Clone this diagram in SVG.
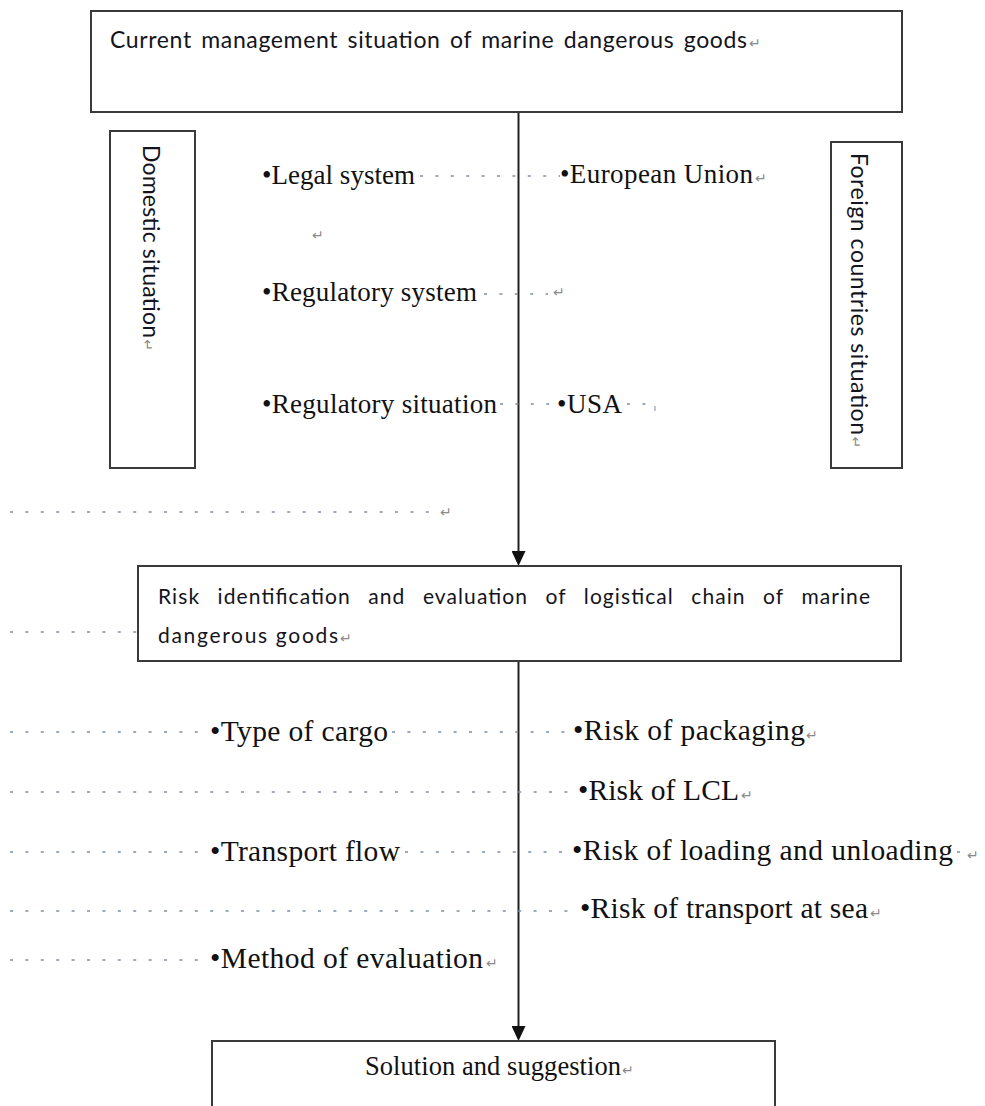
<svg xmlns="http://www.w3.org/2000/svg" width="985" height="1106" viewBox="0 0 985 1106">
<style>
.box{fill:#fff;stroke:#3a3a3a;stroke-width:2}
.sans{font-family:Lato,"Liberation Sans",Arial,sans-serif;fill:#141420}
.serif{font-family:"Liberation Serif","Times New Roman",serif;fill:#111}
.up{font-size:27px}
.low{font-size:29.5px}
.ret{font-family:"DejaVu Sans",sans-serif;font-size:14px;fill:#8a8a8a}
.dot{stroke:#7d8ea3;stroke-width:1.5;stroke-dasharray:3 12.4;fill:none}
.conn{stroke:#222;stroke-width:2;fill:none}
</style>
<defs>
<marker id="arr" viewBox="0 0 15 14" refX="7" refY="7" markerWidth="15" markerHeight="14" markerUnits="userSpaceOnUse" orient="auto">
<path d="M0,0 L15,7 L0,14 z" fill="#111"/>
</marker>
</defs>
<rect width="985" height="1106" fill="#fff"/>

<g id="connectors">
<line class="conn" x1="518.5" y1="112" x2="518.5" y2="558" marker-end="url(#arr)"/>
<line class="conn" x1="518.5" y1="661" x2="518.5" y2="1033" marker-end="url(#arr)"/>
</g>

<g id="leaders">
<line class="dot" x1="420" y1="176" x2="560" y2="176"/>
<line class="dot" x1="484" y1="294" x2="548" y2="294"/>
<line class="dot" x1="500" y1="404" x2="556" y2="404"/>
<line class="dot" x1="627" y1="404" x2="650" y2="404"/>
<line class="dot" x1="655" y1="406" x2="655" y2="411" style="stroke-dasharray:none;stroke-width:1"/>
<line class="dot" x1="10" y1="512" x2="434" y2="512"/>
<line class="dot" x1="10" y1="632" x2="137" y2="632"/>
<line class="dot" x1="10" y1="732" x2="206" y2="732"/>
<line class="dot" x1="392" y1="732" x2="572" y2="732"/>
<line class="dot" x1="10" y1="792" x2="576" y2="792"/>
<line class="dot" x1="10" y1="852" x2="206" y2="852"/>
<line class="dot" x1="405" y1="852" x2="570" y2="852"/>
<line class="dot" x1="957" y1="852" x2="962" y2="852"/>
<line class="dot" x1="10" y1="911" x2="578" y2="911"/>
<line class="dot" x1="10" y1="960" x2="206" y2="960"/>
</g>

<g id="node-current">
<rect class="box" x="91" y="11" width="811" height="101"/>
<text class="sans" x="110" y="48" font-size="23" word-spacing="3" textLength="637" lengthAdjust="spacing">Current management situation of marine dangerous goods</text>
<text class="ret" x="749" y="48">↵</text>
</g>

<g id="node-domestic">
<rect class="box" x="110" y="131" width="85" height="337"/>
<text class="sans" font-size="23" transform="translate(143,145) rotate(90)"><tspan textLength="193" lengthAdjust="spacing">Domestic situation</tspan><tspan class="ret" dx="1">↵</tspan></text>
</g>

<g id="node-foreign">
<rect class="box" x="831" y="142" width="71" height="326"/>
<text class="sans" font-size="23" transform="translate(851,153) rotate(90)"><tspan textLength="282" lengthAdjust="spacing">Foreign countries situation</tspan><tspan class="ret" dx="1">↵</tspan></text>
</g>

<g id="domestic-items">
<text class="serif up" x="262" y="184" textLength="153" lengthAdjust="spacing">•Legal system</text>
<text class="ret" x="312" y="240">↵</text>
<text class="serif up" x="262" y="301" textLength="215" lengthAdjust="spacing">•Regulatory system</text>
<text class="ret" x="553" y="297">↵</text>
<text class="serif up" x="262" y="413" textLength="235" lengthAdjust="spacing">•Regulatory situation</text>
</g>

<g id="foreign-items">
<text class="serif up" x="560" y="183" textLength="193" lengthAdjust="spacing">•European Union</text>
<text class="ret" x="755" y="183">↵</text>
<text class="serif up" x="557" y="413" textLength="65" lengthAdjust="spacing">•USA</text>
</g>

<g id="tail-mark">
<text class="ret" x="440" y="517">↵</text>
</g>

<g id="node-risk">
<rect class="box" x="138" y="566" width="763" height="95"/>
<text class="sans" x="158" y="604" font-size="21" word-spacing="11" textLength="712" lengthAdjust="spacing">Risk identification and evaluation of logistical chain of marine</text>
<text class="sans" x="158" y="643" font-size="21" textLength="180" lengthAdjust="spacing">dangerous goods</text>
<text class="ret" x="340" y="643">↵</text>
</g>

<g id="risk-items-left">
<text class="serif low" x="210" y="741" textLength="178" lengthAdjust="spacing">•Type of cargo</text>
<text class="serif low" x="210" y="861" textLength="190" lengthAdjust="spacing">•Transport flow</text>
<text class="serif low" x="210" y="968" textLength="273" lengthAdjust="spacing">•Method of evaluation</text>
<text class="ret" x="486" y="968">↵</text>
</g>

<g id="risk-items-right">
<text class="serif low" x="573" y="740" textLength="232" lengthAdjust="spacing">•Risk of packaging</text>
<text class="ret" x="806" y="740">↵</text>
<text class="serif low" x="578" y="800" textLength="161" lengthAdjust="spacing">•Risk of LCL</text>
<text class="ret" x="741" y="800">↵</text>
<text class="serif low" x="572" y="860" textLength="381" lengthAdjust="spacing">•Risk of loading and unloading</text>
<text class="ret" x="967" y="860">↵</text>
<text class="serif low" x="580" y="918" textLength="288" lengthAdjust="spacing">•Risk of transport at sea</text>
<text class="ret" x="870" y="918">↵</text>
</g>

<g id="node-solution">
<rect class="box" x="212" y="1041" width="563" height="80"/>
<text class="serif" x="365" y="1075" font-size="26.5" textLength="256" lengthAdjust="spacing">Solution and suggestion</text>
<text class="ret" x="622" y="1075">↵</text>
</g>
</svg>
